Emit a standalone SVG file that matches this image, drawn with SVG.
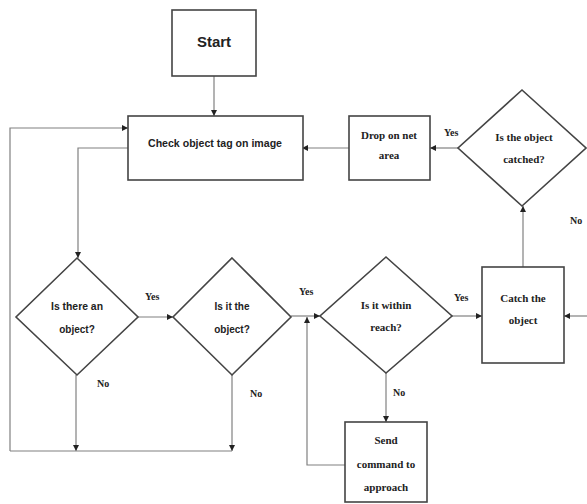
<svg xmlns="http://www.w3.org/2000/svg" width="587" height="504" viewBox="0 0 587 504">
<style>
.box{fill:#fff;stroke:#444;stroke-width:1.6}
.ln{fill:none;stroke:#808080;stroke-width:1.2}
.sans{font-family:"Liberation Sans",Arial,sans-serif;font-weight:bold;fill:#222;text-anchor:middle}
.ser{font-family:"Liberation Serif","Times New Roman",serif;font-weight:bold;fill:#222;text-anchor:middle}
.lbl{font-family:"Liberation Serif","Times New Roman",serif;font-weight:bold;fill:#222;font-size:10px}
</style>
<defs>
<marker id="ah" viewBox="0 0 8 8" refX="8" refY="4" markerWidth="6" markerHeight="6" orient="auto" markerUnits="userSpaceOnUse">
<path d="M0,0 L8,4 L0,8 z" fill="#222"/>
</marker>
</defs>
<rect width="587" height="504" fill="#fff"/>
<g id="connectors">
<path class="ln" d="M214,76 V116" marker-end="url(#ah)"/>
<path class="ln" d="M10,451 V128 H128" marker-end="url(#ah)"/>
<path class="ln" d="M128,148 H78 V258" marker-end="url(#ah)"/>
<path class="ln" d="M138,317 H173" marker-end="url(#ah)"/>
<path class="ln" d="M76,375 V451" marker-end="url(#ah)"/>
<path class="ln" d="M232,375 V451" marker-end="url(#ah)"/>
<path class="ln" d="M10,451 H232"/>
<path class="ln" d="M291,316 H320" marker-end="url(#ah)"/>
<path class="ln" d="M345,465 H307 V317" marker-end="url(#ah)"/>
<path class="ln" d="M386,373 V422" marker-end="url(#ah)"/>
<path class="ln" d="M452,316 H482" marker-end="url(#ah)"/>
<path class="ln" d="M587,316 H564" marker-end="url(#ah)"/>
<path class="ln" d="M523,267 V206" marker-end="url(#ah)"/>
<path class="ln" d="M458,148 H430" marker-end="url(#ah)"/>
<path class="ln" d="M349,148 H302" marker-end="url(#ah)"/>
<text class="lbl" x="145" y="300" font-family="Liberation Sans">Yes</text>
<text class="lbl" x="97" y="387">No</text>
<text class="lbl" x="250" y="397">No</text>
<text class="lbl" x="299" y="295">Yes</text>
<text class="lbl" x="393" y="396">No</text>
<text class="lbl" x="454" y="301">Yes</text>
<text class="lbl" x="444" y="136">Yes</text>
<text class="lbl" x="570" y="224">No</text>
</g>
<g id="start">
<rect class="box" x="172" y="10" width="84" height="66"/>
<text class="sans" x="214" y="47" font-size="15">Start</text>
</g>
<g id="check">
<rect class="box" x="128" y="116" width="175" height="64"/>
<text class="sans" x="215" y="147" font-size="10" textLength="134" lengthAdjust="spacingAndGlyphs">Check object tag on image</text>
</g>
<g id="drop">
<rect class="box" x="349" y="116" width="81" height="64"/>
<text class="ser" x="389" y="139" font-size="11">Drop on net</text>
<text class="ser" x="389" y="159" font-size="11">area</text>
</g>
<g id="catched">
<polygon class="box" points="522,90 586,148 522,206 458,148"/>
<text class="ser" x="524" y="141" font-size="11">Is the object</text>
<text class="ser" x="524" y="163" font-size="11">catched?</text>
</g>
<g id="isthere">
<polygon class="box" points="77,258 138,317 77,375 16,317"/>
<text class="sans" x="77" y="310" font-size="10" textLength="52" lengthAdjust="spacingAndGlyphs">Is there an</text>
<text class="sans" x="77" y="333" font-size="10">object?</text>
</g>
<g id="isit">
<polygon class="box" points="232,258 291,317 232,375 173,317"/>
<text class="sans" x="232" y="310" font-size="10">Is it the</text>
<text class="sans" x="232" y="333" font-size="10">object?</text>
</g>
<g id="within">
<polygon class="box" points="386,257 452,316 386,373 320,316"/>
<text class="ser" x="386" y="309" font-size="11">Is it within</text>
<text class="ser" x="386" y="331" font-size="11">reach?</text>
</g>
<g id="catch">
<rect class="box" x="482" y="267" width="82" height="96"/>
<text class="ser" x="523" y="302" font-size="11">Catch the</text>
<text class="ser" x="523" y="324" font-size="11">object</text>
</g>
<g id="send">
<rect class="box" x="345" y="422" width="82" height="80"/>
<text class="ser" x="386" y="444" font-size="11">Send</text>
<text class="ser" x="386" y="468" font-size="11">command to</text>
<text class="ser" x="386" y="491" font-size="11">approach</text>
</g>
</svg>
